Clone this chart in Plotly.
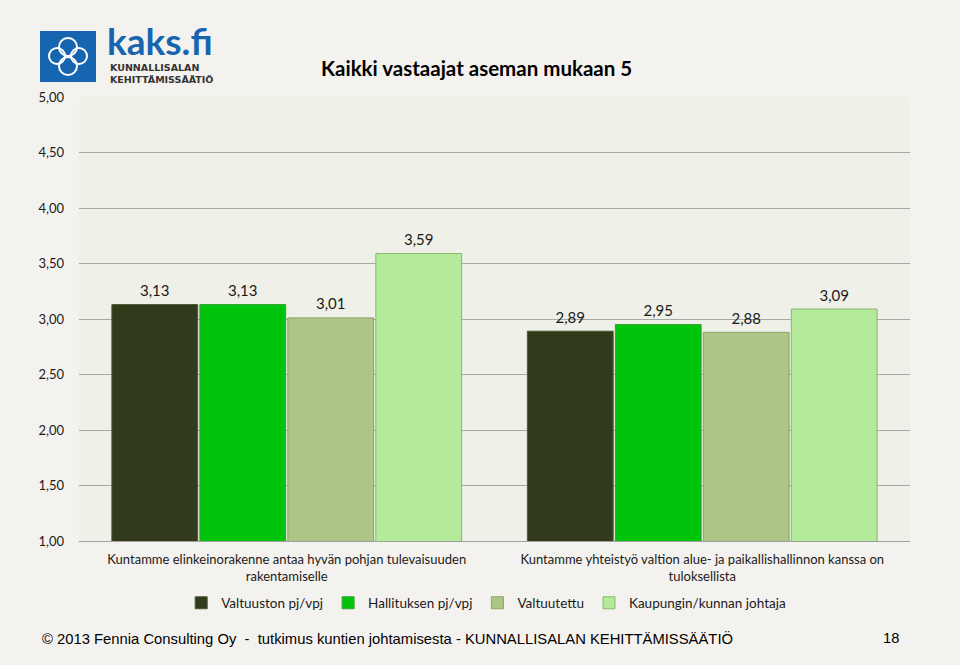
import plotly.graph_objects as go

categories = ["Kuntamme elinkeinorakenne antaa hyvän pohjan tulevaisuuden<br>rakentamiselle",
              "Kuntamme yhteistyö valtion alue- ja paikallishallinnon kanssa on<br>tuloksellista"]
series_names = ["Valtuuston pj/vpj", "Hallituksen pj/vpj", "Valtuutettu", "Kaupungin/kunnan johtaja"]
valtuuston = [3.13, 2.89]
hallituksen = [3.13, 2.95]
valtuutettu = [3.01, 2.88]
johtaja = [3.59, 3.09]
y_ticks = [1.0, 1.5, 2.0, 2.5, 3.0, 3.5, 4.0, 4.5, 5.0]

colors = ["#313a1b", "#00c40c", "#adc585", "#b3eb9b"]
line_colors = ["#4a5a30", "#3aa030", "#8aa468", "#8ab870"]

W, H = 960, 665
L, R, T, B = 79, 50, 97, 124
pw, ph = W - L - R, H - T - B

def px(x):
    return (x - L) / pw

def py(y):
    return (H - B - y) / ph

FONT = "Lato, Open Sans, sans-serif"

fig = go.Figure()
all_vals = [valtuuston, hallituksen, valtuutettu, johtaja]
for name, vals, c, lc in zip(series_names, all_vals, colors, line_colors):
    fig.add_trace(go.Bar(
        x=categories, y=vals, name=name,
        marker=dict(color=c, line=dict(color=lc, width=1)),
    ))
for name, vals in zip(series_names, all_vals):
    fig.add_trace(go.Scatter(
        x=categories, y=vals, name=name, mode="markers+text", showlegend=False,
        marker=dict(size=6, opacity=0),
        text=[f"{v:.2f}".replace(".", ",") for v in vals],
        textposition="top center", cliponaxis=False, hoverinfo="skip",
        textfont=dict(size=15, color="#1a1a1a", family=FONT),
    ))

fig.update_layout(
    width=W, height=H,
    margin=dict(l=L, r=R, t=T, b=B),
    paper_bgcolor="#f4f2ee",
    plot_bgcolor="#eff0e8",
    barmode="group", bargap=0.153, bargroupgap=0.025,
    scattermode="group", scattergap=0.153,
    separators=", ",
    font=dict(family=FONT, size=13, color="#1a1a1a"),
    showlegend=True,
    legend=dict(orientation="h", x=0.49, xanchor="center", y=py(603), yanchor="middle",
                font=dict(size=13.5, family=FONT), bgcolor="rgba(0,0,0,0)",
                itemwidth=30, traceorder="normal"),
    xaxis=dict(showgrid=False, showline=True, linecolor="#a0a0a0", linewidth=1,
               tickfont=dict(size=13, family=FONT), ticks="", ticklabelstandoff=6),
    yaxis=dict(range=[1, 5], tickvals=y_ticks, tickformat=".2f",
               showgrid=True, gridcolor="#a8a8a8", gridwidth=1, zeroline=False,
               tickfont=dict(size=13, family=FONT), ticks="", ticklabelstandoff=14),
)

# Title
fig.add_annotation(xref="paper", yref="paper", x=px(319), y=py(68), xanchor="left", yanchor="middle",
                   text="<b>Kaikki vastaajat aseman mukaan 5</b>", showarrow=False,
                   font=dict(size=20.5, family=FONT, color="#000000"))

# Logo: blue square with white emblem
shapes = []
shapes.append(dict(type="rect", xref="paper", yref="paper", x0=px(40), x1=px(96), y0=py(82), y1=py(31),
                   fillcolor="#1565b0", line=dict(width=0), layer="above"))
for (cx, cy, r) in [(68, 47, 9), (57, 56, 8), (79, 56, 8), (68, 66, 9)]:
    shapes.append(dict(type="circle", xref="paper", yref="paper",
                       x0=px(cx - r), x1=px(cx + r), y0=py(cy + r), y1=py(cy - r),
                       fillcolor="rgba(0,0,0,0)", line=dict(color="white", width=2), layer="above"))
fig.update_layout(shapes=shapes)

fig.add_annotation(xref="paper", yref="paper", x=px(106), y=py(41), xanchor="left", yanchor="middle",
                   text="<b>kaks.fi</b>", showarrow=False, borderpad=0,
                   font=dict(size=37, family="Lato, sans-serif", color="#1565b0"))
fig.add_annotation(xref="paper", yref="paper", x=px(109), y=py(73), xanchor="left", yanchor="middle",
                   text="<b>KUNNALLISALAN</b><br><b>KEHITTÄMISSÄÄTIÖ</b>", showarrow=False, borderpad=0,
                   align="left",
                   font=dict(size=9.5, family="DejaVu Sans, sans-serif", color="#333333"))

# Footer
fig.add_annotation(xref="paper", yref="paper", x=px(40), y=py(638), xanchor="left", yanchor="middle",
                   text="© 2013 Fennia Consulting Oy  -  tutkimus kuntien johtamisesta - KUNNALLISALAN KEHITTÄMISSÄÄTIÖ",
                   showarrow=False, font=dict(size=14.8, family="Liberation Sans, Arial, sans-serif", color="#000000"))
fig.add_annotation(xref="paper", yref="paper", x=px(901), y=py(638), xanchor="right", yanchor="middle",
                   text="18", showarrow=False,
                   font=dict(size=14.8, family="Liberation Sans, Arial, sans-serif", color="#000000"))

fig.write_html("out.html")
